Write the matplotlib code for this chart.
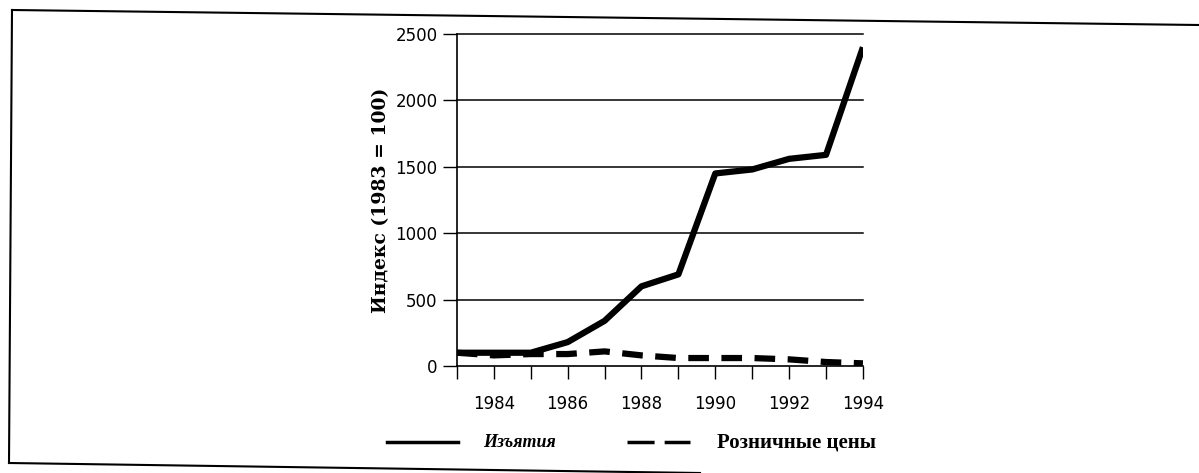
import matplotlib.pyplot as plt
from matplotlib.lines import Line2D

years = [1983, 1984, 1985, 1986, 1987, 1988, 1989, 1990, 1991, 1992, 1993, 1994]
seizures = [100, 100, 100, 180, 340, 600, 690, 1450, 1480, 1560, 1590, 2400]
retail_prices = [100, 80, 90, 90, 110, 80, 60, 60, 60, 50, 30, 20]
xtick_labels = [1984, 1986, 1988, 1990, 1992, 1994]
yticks = [0, 500, 1000, 1500, 2000, 2500]

serif = ['Liberation Serif', 'DejaVu Serif']
wide_serif = ['DejaVu Serif']

fig = plt.figure(figsize=(11.99, 4.73), dpi=100)
ax = fig.add_axes([0.3811, 0.2262, 0.3386, 0.7019])

ax.plot(years, seizures, color='black', lw=4.5, solid_capstyle='butt', solid_joinstyle='round', zorder=3)
ax.plot(years, retail_prices, color='black', lw=4.5, dashes=(3.3, 2.0), zorder=3)

ax.set_xlim(1983, 1994)
ax.set_ylim(0, 2500)
ax.set_yticks(yticks)
ax.set_xticks(years)
ax.set_xticklabels([str(y) if y in xtick_labels else '' for y in years])

# horizontal grid only
for y in yticks[1:]:
    ax.axhline(y, color='black', lw=1.1, zorder=1, clip_on=False)

for s in ['top', 'right']:
    ax.spines[s].set_visible(False)
ax.spines['left'].set_linewidth(1.2)
ax.spines['bottom'].set_linewidth(1.2)
ax.tick_params(axis='y', direction='out', length=10, width=1, labelsize=12, pad=4)
ax.tick_params(axis='x', direction='out', length=9, width=1, labelsize=12, pad=12)

ax.set_ylabel('Индекс (1983 = 100)', fontsize=13.5, fontweight='bold', family=wide_serif, labelpad=4)

# legend drawn by hand at the bottom
fig.add_artist(Line2D([387 / 1199, 458 / 1199], [1 - 442 / 473] * 2, color='black', lw=2.5))
fig.text(483 / 1199, 1 - 442 / 473, 'Изъятия', fontsize=13, fontweight='bold', style='italic',
         family=serif, va='center', ha='left')
fig.add_artist(Line2D([627 / 1199, 690 / 1199], [1 - 442 / 473] * 2, color='black', lw=2.5,
                      dashes=(7.8, 2.9)))
fig.text(717 / 1199, 1 - 442 / 473, 'Розничные цены', fontsize=15, fontweight='bold',
         family=serif, va='center', ha='left')

# scanned frame around the figure
fig.add_artist(Line2D([12 / 1199, 1.0], [1 - 10 / 473, 1 - 25 / 473], color='black', lw=1.5))
fig.add_artist(Line2D([12 / 1199, 9 / 1199], [1 - 10 / 473, 1 - 463 / 473], color='black', lw=1.5))
fig.add_artist(Line2D([9 / 1199, 700 / 1199], [1 - 463 / 473, 1 - 473 / 473], color='black', lw=1.5))

fig.savefig('out.png', dpi=100)
